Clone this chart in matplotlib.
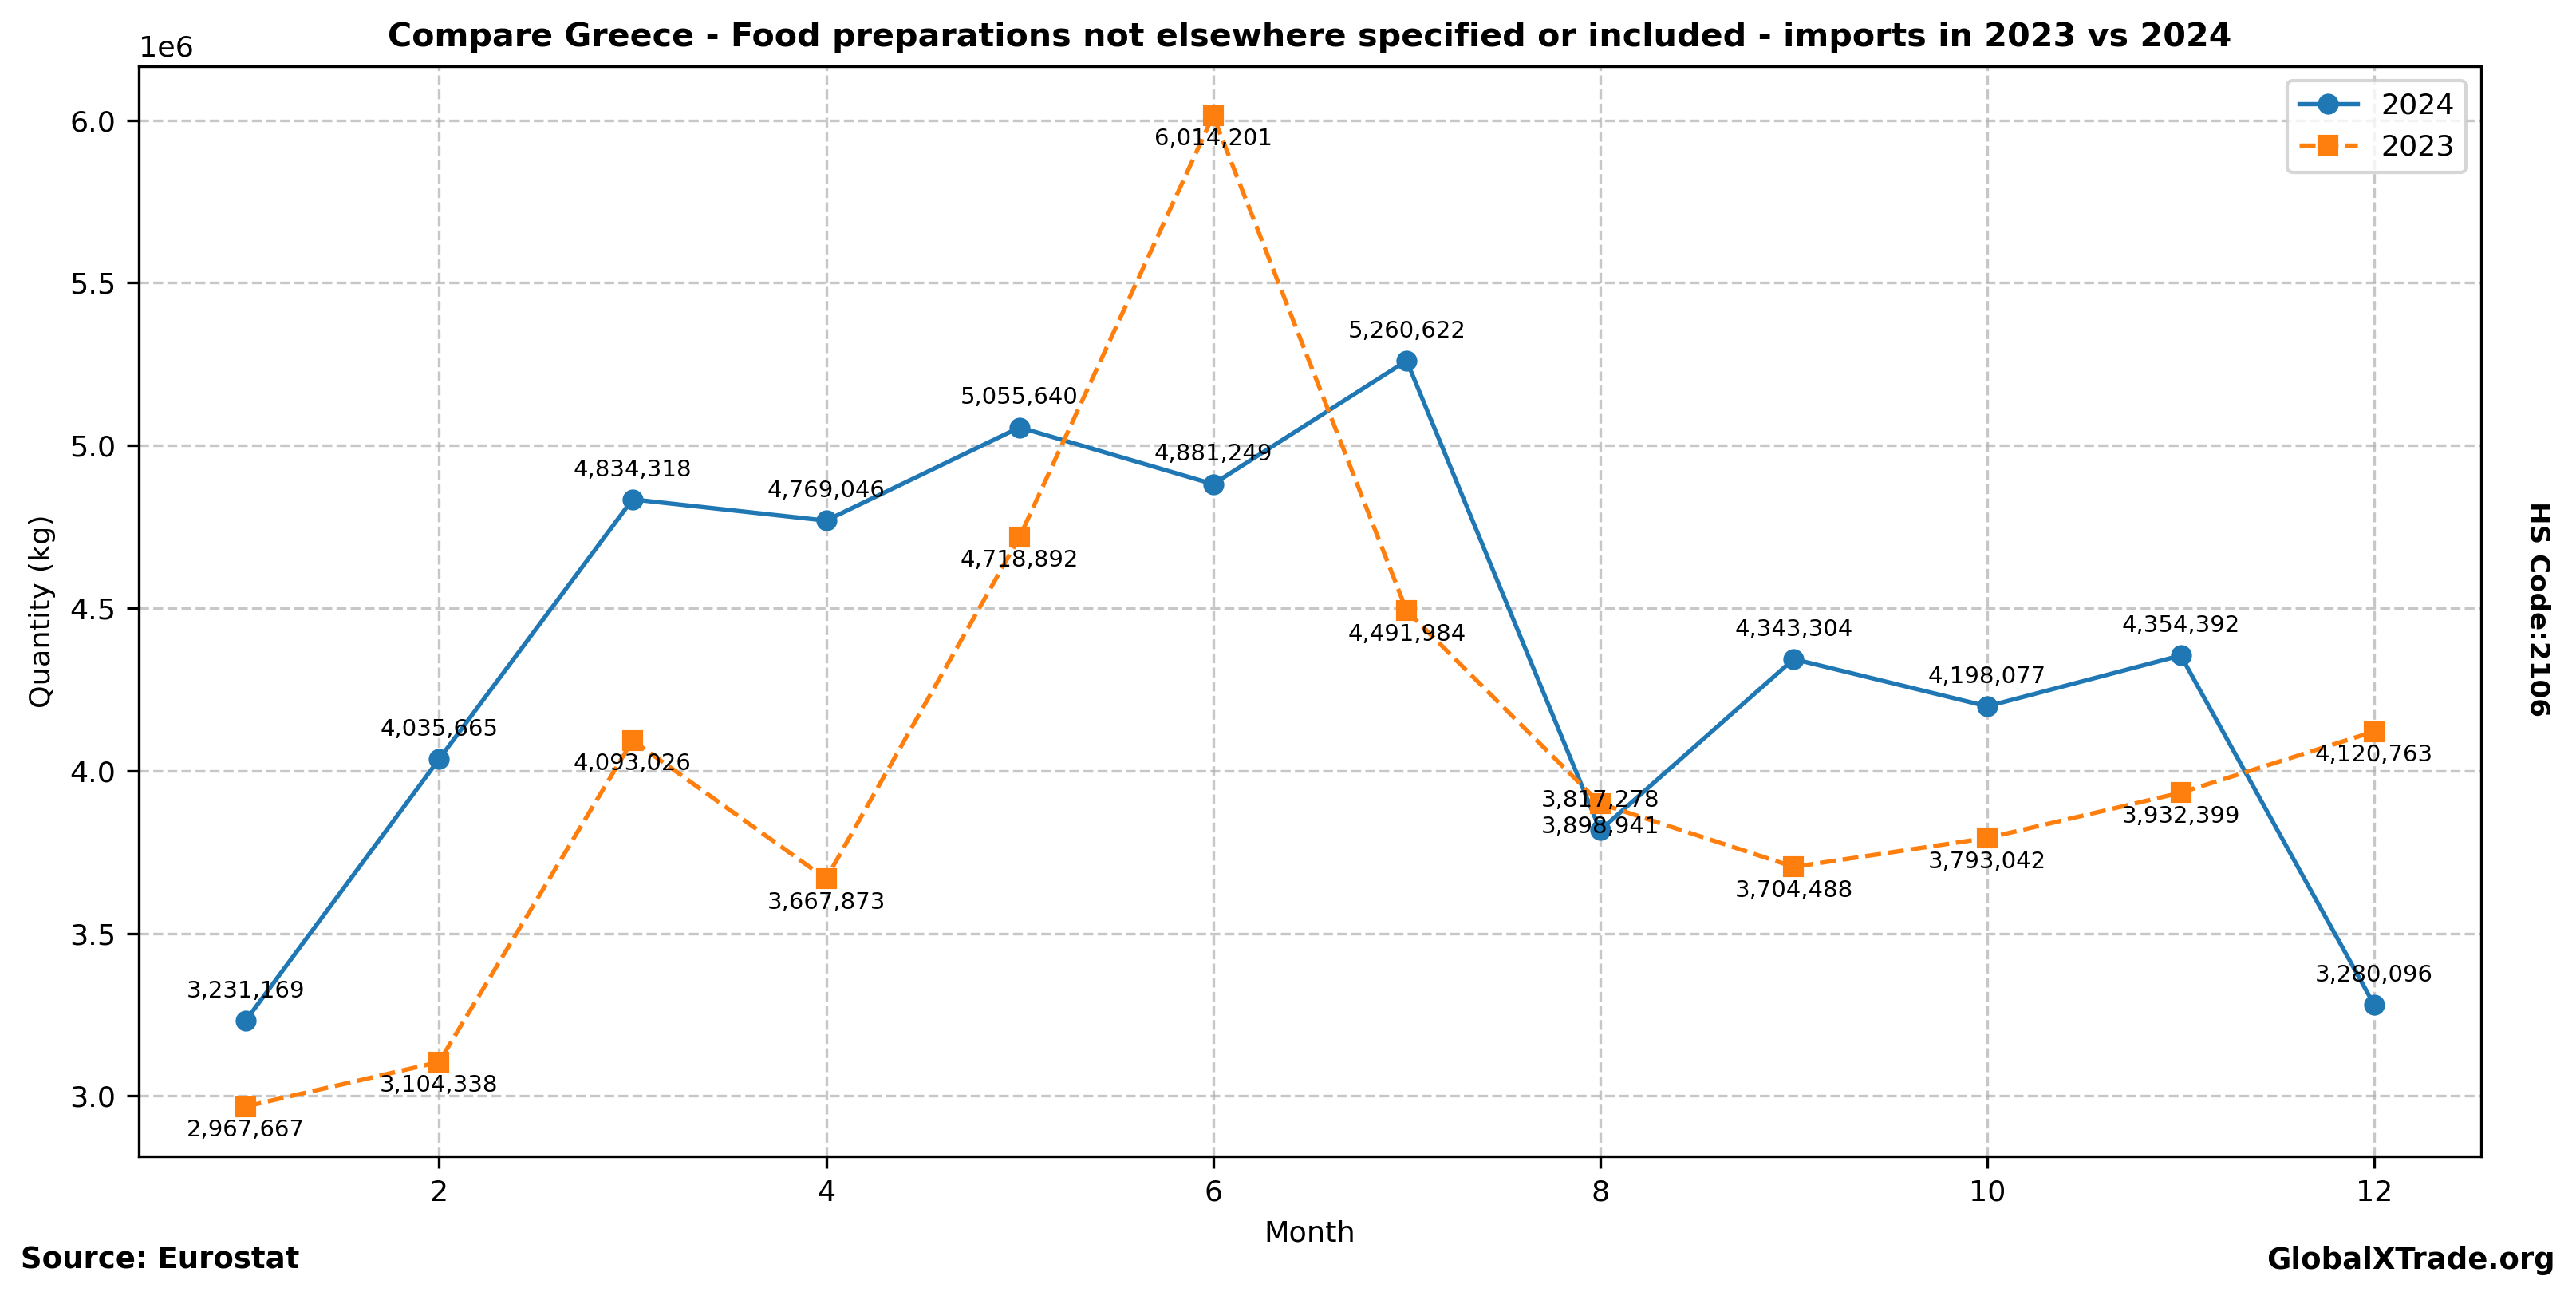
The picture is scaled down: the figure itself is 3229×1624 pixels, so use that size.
import matplotlib.pyplot as plt

MONTHS = list(range(1, 13))
QTY_2024 = [3231169, 4035665, 4834318, 4769046, 5055640, 4881249,
            5260622, 3817278, 4343304, 4198077, 4354392, 3280096]
QTY_2023 = [2967667, 3104338, 4093026, 3667873, 4718892, 6014201,
            4491984, 3898941, 3704488, 3793042, 3932399, 4120763]

plt.rcParams.update({
    "font.size": 8.75,
    "axes.labelsize": 8.75,
    "xtick.labelsize": 8.75,
    "ytick.labelsize": 8.75,
    "legend.fontsize": 8.75,
    "lines.linewidth": 1.3,
    "lines.markersize": 5.3,
})

fig = plt.figure(figsize=(3229 / 300, 1624 / 300), dpi=300)
ax = fig.add_axes([0.054, 0.108, 0.909, 0.841])

ax.plot(MONTHS, QTY_2024, marker="o", linestyle="-", color="#1f77b4", label="2024")
ax.plot(MONTHS, QTY_2023, marker="s", linestyle="--", color="#ff7f0e", label="2023")

# value labels: 2024 above, 2023 below
for m, v in zip(MONTHS, QTY_2024):
    ax.annotate(f"{v:,}", (m, v), textcoords="offset points", xytext=(0, 7),
                ha="center", fontsize=7)
for m, v in zip(MONTHS, QTY_2023):
    ax.annotate(f"{v:,}", (m, v), textcoords="offset points", xytext=(0, -9),
                ha="center", fontsize=7)

ax.set_title("Compare Greece - Food preparations not elsewhere specified or included - imports in 2023 vs 2024",
             fontweight="bold", fontsize=9.9)
ax.set_xlabel("Month")
ax.set_ylabel("Quantity (kg)")
ax.grid(True, linestyle="--", alpha=0.7)
ax.legend(loc="upper right")

fig.text(0.008, 0.021, "Source: Eurostat", fontweight="bold", fontsize=8.9, ha="left")
fig.text(0.992, 0.021, "GlobalXTrade.org", fontweight="bold", fontsize=8.9, ha="right")
fig.text(0.985, 0.53, "HS Code:2106", fontweight="bold", fontsize=8.2,
         rotation=270, va="center", ha="center")

fig.savefig("out.png", dpi=300, facecolor="white")
